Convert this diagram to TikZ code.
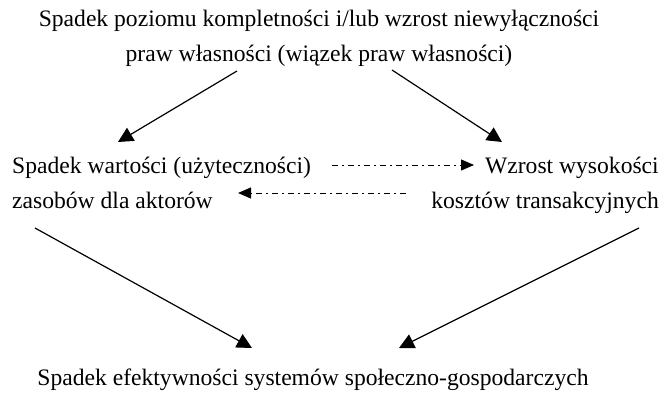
\documentclass[tikz,border=0pt]{standalone}
\usepackage{fontspec}
\setmainfont{Liberation Serif}
\usetikzlibrary{arrows.meta,positioning}

\begin{document}
\begin{tikzpicture}[x=1pt,y=-1pt,
  txt/.style={inner sep=0pt, font=\fontsize{23.6}{35}\selectfont},
  arr/.style={-{Triangle[length=15pt,width=15pt]}, line width=1.2pt},
  dd/.style={-{Triangle[length=13pt,width=11pt]}, line width=1pt,
             dash pattern=on 6pt off 4pt on 2pt off 4pt}]
\useasboundingbox (0,0) rectangle (663,393);
\node[txt, align=center, anchor=base] (top) at (319,62)
  {Spadek poziomu kompletności i/lub wzrost niewyłączności\\
   praw własności (wiązek praw własności)};
\node[txt, align=left, anchor=base west] (val) at (12,208)
  {Spadek wartości (użyteczności)\\zasobów dla aktorów};
\node[txt, align=right, anchor=base east] (cost) at (659,208)
  {Wzrost wysokości\\kosztów transakcyjnych};
\node[txt, anchor=base] (eff) at (313,385)
  {Spadek efektywności systemów społeczno-gospodarczych};
% arrow ends
\coordinate (a1) at (237,71);  \coordinate (b1) at (118,142);
\coordinate (a2) at (392,70);  \coordinate (b2) at (502,142);
\coordinate (a3) at (35,228);  \coordinate (b3) at (252,348);
\coordinate (a4) at (639,228); \coordinate (b4) at (399,348);
\coordinate (c1) at (332,165); \coordinate (d1) at (474,165);
\coordinate (c2) at (406,193); \coordinate (d2) at (238,193);
\draw[arr] (a1) -- (b1);
\draw[arr] (a2) -- (b2);
\draw[arr] (a3) -- (b3);
\draw[arr] (a4) -- (b4);
\draw[dd] (c1) -- (d1);
\draw[dd] (c2) -- (d2);
\end{tikzpicture}
\end{document}
